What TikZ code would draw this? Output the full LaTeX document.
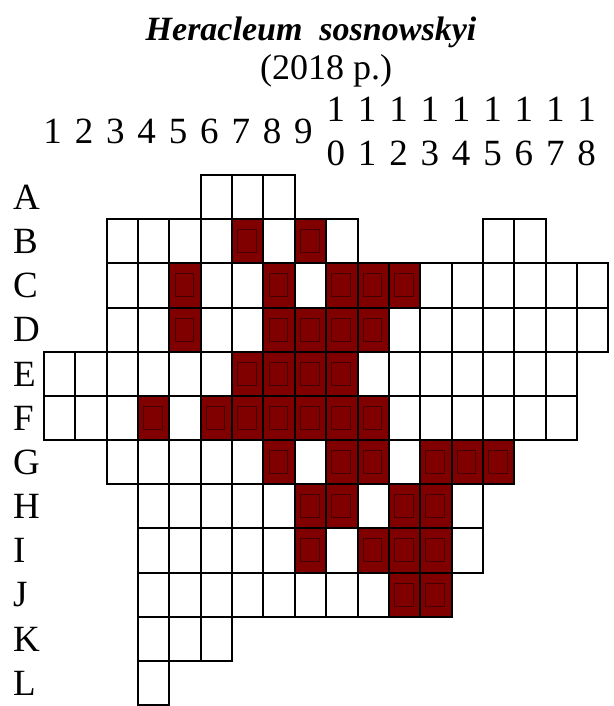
\documentclass[tikz,border=0pt]{standalone}
\usepackage{fontspec}
\setmainfont{Liberation Serif}
\definecolor{cellred}{HTML}{800000}
\definecolor{innerred}{HTML}{420000}
\begin{document}
\begin{tikzpicture}[x=1pt,y=-1pt,
  gridcell/.style={draw=black,line width=2pt,fill=white,minimum width=31.35pt,minimum height=44.17pt,inner sep=0pt,outer sep=0pt},
  redcell/.style={gridcell,fill=cellred},
  innerbox/.style={draw=innerred,line width=1pt,fill=cellred,minimum width=18.5pt,minimum height=23pt,inner sep=0pt,outer sep=0pt},
  lbl/.style={inner sep=0pt,font=\fontsize{37}{37}\selectfont},
  ttl/.style={inner sep=0pt,font=\fontsize{34}{34}\selectfont\bfseries\itshape},
  sub/.style={inner sep=0pt,font=\fontsize{36}{36}\selectfont}]
\useasboundingbox[fill=white] (0,0) rectangle (613,706);
% title
\node[ttl,anchor=base] (title) at (311,41) {Heracleum\ \ sosnowskyi};
\node[sub,anchor=base] (year) at (326,80) {(2018 p.)};
% grid cells
\foreach \r/\a/\b in {1/6/8, 2/3/10, 2/15/16, 3/3/18, 4/3/18, 5/1/17, 6/1/17, 7/3/15, 8/4/14, 9/4/14, 10/4/13, 11/4/6, 12/4/4}{
  \foreach \c in {\a,...,\b}{
    \node[gridcell] (cell-\r-\c) at ({44+(\c-0.5)*31.35},{175+(\r-0.5)*44.17}) {};
  }
}
% occupied cells
\foreach \r/\c in {2/7,2/9,
  3/5,3/8,3/10,3/11,3/12,
  4/5,4/8,4/9,4/10,4/11,
  5/7,5/8,5/9,5/10,
  6/4,6/6,6/7,6/8,6/9,6/10,6/11,
  7/8,7/10,7/11,7/13,7/14,7/15,
  8/9,8/10,8/12,8/13,
  9/9,9/11,9/12,9/13,
  10/12,10/13}{
  \node[redcell] (fill-\r-\c) at ({44+(\c-0.5)*31.35},{175+(\r-0.5)*44.17}) {};
  \node[innerbox] (mark-\r-\c) at ([xshift=-0.7pt]fill-\r-\c.center) {};
}
% row labels
\foreach \l [count=\r] in {A,B,C,D,E,F,G,H,I,J,K,L}{
  \node[lbl,anchor=base west] (row-\r) at (13,{175+(\r-0.5)*44.17+12.3}) {\l};
}
% column labels
\foreach \c in {1,...,9}{
  \node[lbl,anchor=base] (col-\c) at ({44+(\c-0.5)*31.35-7},143) {\c};
}
\foreach \c/\d in {10/0,11/1,12/2,13/3,14/4,15/5,16/6,17/7,18/8}{
  \node[lbl,anchor=base] (colt-\c) at ({44+(\c-0.5)*31.35-6},121.7) {1};
  \node[lbl,anchor=base] (colb-\c) at ({44+(\c-0.5)*31.35-6},165) {\d};
}
\end{tikzpicture}
\end{document}
